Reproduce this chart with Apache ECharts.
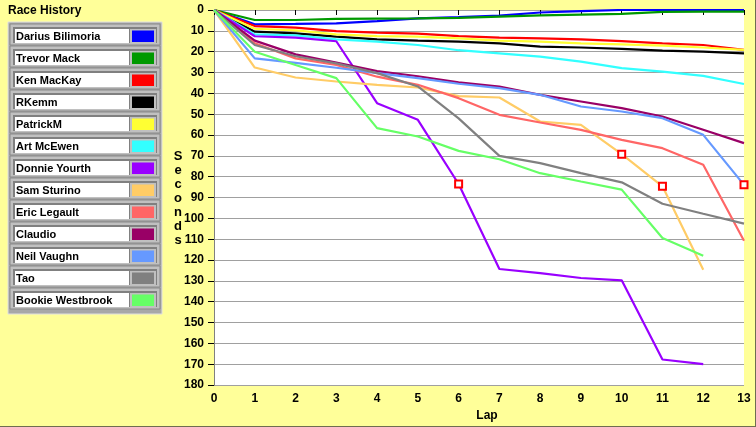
<!DOCTYPE html>
<html>
<head>
<meta charset="utf-8">
<title>Race History</title>
<script src="https://cdn.jsdelivr.net/npm/echarts@6/dist/echarts.min.js"></script>
<style>
  html, body { margin: 0; padding: 0; background: #ffff99; }
  #chart { width: 756px; height: 427px; }
</style>
</head>
<body>
<div id="chart"></div>
<script>
// riders, in legend order, with their line colours
var riders = ['Darius Bilimoria', 'Trevor Mack', 'Ken MacKay', 'RKemm', 'PatrickM', 'Art McEwen',
              'Donnie Yourth', 'Sam Sturino', 'Eric Legault', 'Claudio', 'Neil Vaughn', 'Tao', 'Bookie Westbrook'];
var colors = ['#0000ff', '#009900', '#ff0000', '#000000', '#ffff33', '#33ffff',
              '#9900ff', '#ffcc66', '#ff6666', '#990066', '#6699ff', '#808080', '#66ff66'];

// seconds behind the leader, lap 0 .. last lap
var darius  = [0, 6.9, 6.7, 6.4, 5.3, 4.0, 3.4, 2.7, 1.2, 0.5, 0, 0, 0, 0];
var trevor  = [0, 4.8, 4.8, 4.3, 4.1, 4.0, 3.8, 3.2, 2.6, 2.2, 1.9, 0.9, 0.8, 0.8];
var ken     = [0, 7.7, 8.5, 10.1, 10.9, 11.3, 12.5, 13.3, 13.6, 14.1, 14.9, 16.0, 16.8, 19.1];
var rkemm   = [0, 10.4, 11.2, 12.8, 14.1, 14.7, 15.2, 16.0, 17.6, 18.0, 18.7, 19.5, 20.0, 20.8];
var patrick = [0, 9.0, 9.8, 11.7, 12.5, 12.8, 13.6, 14.7, 15.2, 16.0, 16.5, 17.1, 18.0, 19.1];
var art     = [0, 11.7, 12.2, 14.1, 15.2, 16.8, 19.3, 20.8, 22.4, 24.8, 27.9, 29.6, 31.6, 35.5];
var donnie  = [0, 12.6, 13.3, 15.0, 44.7, 52.7, 83.5, 124.3, 126.3, 128.6, 129.7, 167.7, 169.9];
var sam     = [0, 27.6, 32.4, 34.3, 35.9, 37.2, 41.3, 42.0, 53.5, 55.1, 69.2, 84.6, 124.6];
var eric    = [0, 16.0, 23.2, 26.4, 32.0, 35.9, 42.3, 50.3, 54.0, 57.5, 62.3, 66.3, 74.3, 110.7];
var claudio = [0, 14.7, 21.3, 25.2, 29.3, 31.8, 34.7, 36.8, 40.7, 43.9, 47.1, 51.1, 57.5, 63.9];
var neil    = [0, 23.2, 25.4, 27.7, 30.3, 32.7, 35.4, 37.5, 40.7, 46.3, 48.7, 51.9, 59.9, 83.9];
var tao     = [0, 16.8, 22.2, 25.6, 30.3, 36.7, 52.0, 70.0, 73.5, 78.3, 82.7, 93.0, 97.8, 102.5];
var bookie  = [0, 20.0, 26.4, 32.7, 56.7, 60.7, 67.6, 71.6, 78.3, 82.3, 86.2, 109.4, 117.9];

var times = [darius, trevor, ken, rkemm, patrick, art, donnie, sam, eric, claudio, neil, tao, bookie];

// laps that carry a red square marker, per rider
var flagged = { 'Donnie Yourth': [6], 'Sam Sturino': [10, 11], 'Neil Vaughn': [13] };

var yTicks = { min: 0, max: 180, step: 10 };
var xTicks = { min: 0, max: 13, step: 1 };

var chart = echarts.init(document.getElementById('chart'));

var series = riders.map(function (name, k) {
    var marks = flagged[name] || [];
    return {
        name: name,
        type: 'line',
        symbol: 'none',
        animation: false,
        lineStyle: { color: colors[k], width: 2.2 },
        itemStyle: { color: colors[k] },
        data: times[k].map(function (v, lap) {
            if (marks.indexOf(lap) >= 0) {
                return {
                    value: [lap, v],
                    symbol: 'rect',
                    symbolSize: 7,
                    itemStyle: { color: '#ffffff', borderColor: '#ff0000', borderWidth: 2 }
                };
            }
            return [lap, v];
        }),
        z: 2
    };
});

// legend panel drawn as bevelled cells
var panel = [];
panel.push({ type: 'rect', shape: { x: 8, y: 22, width: 154, height: 292 },
             style: { fill: '#a8a8a8', stroke: '#e0e0e0', lineWidth: 1 } });
riders.forEach(function (name, i) {
    var top = 23 + 22 * i;
    panel.push({ type: 'rect', shape: { x: 10, y: top + 1, width: 150, height: 21 },
                 style: { fill: '#c0c0c0', stroke: '#8a8a8a', lineWidth: 1 } });
    panel.push({ type: 'rect', shape: { x: 13, y: top + 4, width: 144, height: 16 },
                 style: { fill: '#808080' } });
    panel.push({ type: 'rect', shape: { x: 15, y: top + 6, width: 114, height: 14 },
                 style: { fill: '#ffffff' } });
    panel.push({ type: 'rect', shape: { x: 130, y: top + 6, width: 26, height: 14 },
                 style: { fill: '#c0c0c0' } });
    panel.push({ type: 'rect', shape: { x: 132, y: top + 7.5, width: 22, height: 11.5 },
                 style: { fill: colors[i] } });
    panel.push({ type: 'text', x: 16, y: top + 13.5,
                 style: { text: name, fill: '#000', font: 'bold 11px "Liberation Sans", Arial, sans-serif',
                          verticalAlign: 'middle' } });
});
panel.push({ type: 'text', x: 8, y: 11,
             style: { text: 'Race History', fill: '#000', font: 'bold 12px "Liberation Sans", Arial, sans-serif',
                      verticalAlign: 'middle' } });
panel.push({ type: 'text', x: 178, y: 198,
             style: { text: 'S\ne\nc\no\nn\nd\ns', fill: '#000', font: 'bold 13px "Liberation Sans", Arial, sans-serif',
                      align: 'center', verticalAlign: 'middle', lineHeight: 14 } });
panel.push({ type: 'line', shape: { x1: 0, y1: 426.5, x2: 756, y2: 426.5 }, style: { stroke: '#6e6e50', lineWidth: 1 } });
panel.push({ type: 'line', shape: { x1: 755.5, y1: 0, x2: 755.5, y2: 427 }, style: { stroke: '#6e6e50', lineWidth: 1 } });

var labelFont = { color: '#000', fontWeight: 'bold', fontSize: 12, fontFamily: '"Liberation Sans", Arial, sans-serif' };

chart.setOption({
    backgroundColor: '#ffff99',
    animation: false,
    grid: { left: 214, right: 12, top: 10, bottom: 41, show: true, backgroundColor: '#ffffff', borderWidth: 0 },
    xAxis: {
        type: 'value',
        min: xTicks.min, max: xTicks.max, interval: xTicks.step,
        name: 'Lap', nameLocation: 'middle', nameGap: 23,
        nameTextStyle: Object.assign({ padding: [0, 0, 0, 16] }, labelFont),
        axisLine: { show: true, lineStyle: { color: '#a0a0a0' } },
        axisTick: { show: true, length: 5, lineStyle: { color: '#000' } },
        axisLabel: Object.assign({ margin: 8 }, labelFont),
        splitLine: { show: false }
    },
    yAxis: {
        type: 'value',
        inverse: true,
        min: yTicks.min, max: yTicks.max, interval: yTicks.step,
        axisLine: { show: true, lineStyle: { color: '#808080' } },
        axisTick: { show: true, length: 6, lineStyle: { color: '#000' } },
        axisLabel: Object.assign({ margin: 10 }, labelFont),
        splitLine: { show: true, lineStyle: { color: '#a0a0a0', width: 1 } }
    },
    graphic: panel,
    series: series
});
</script>
</body>
</html>
